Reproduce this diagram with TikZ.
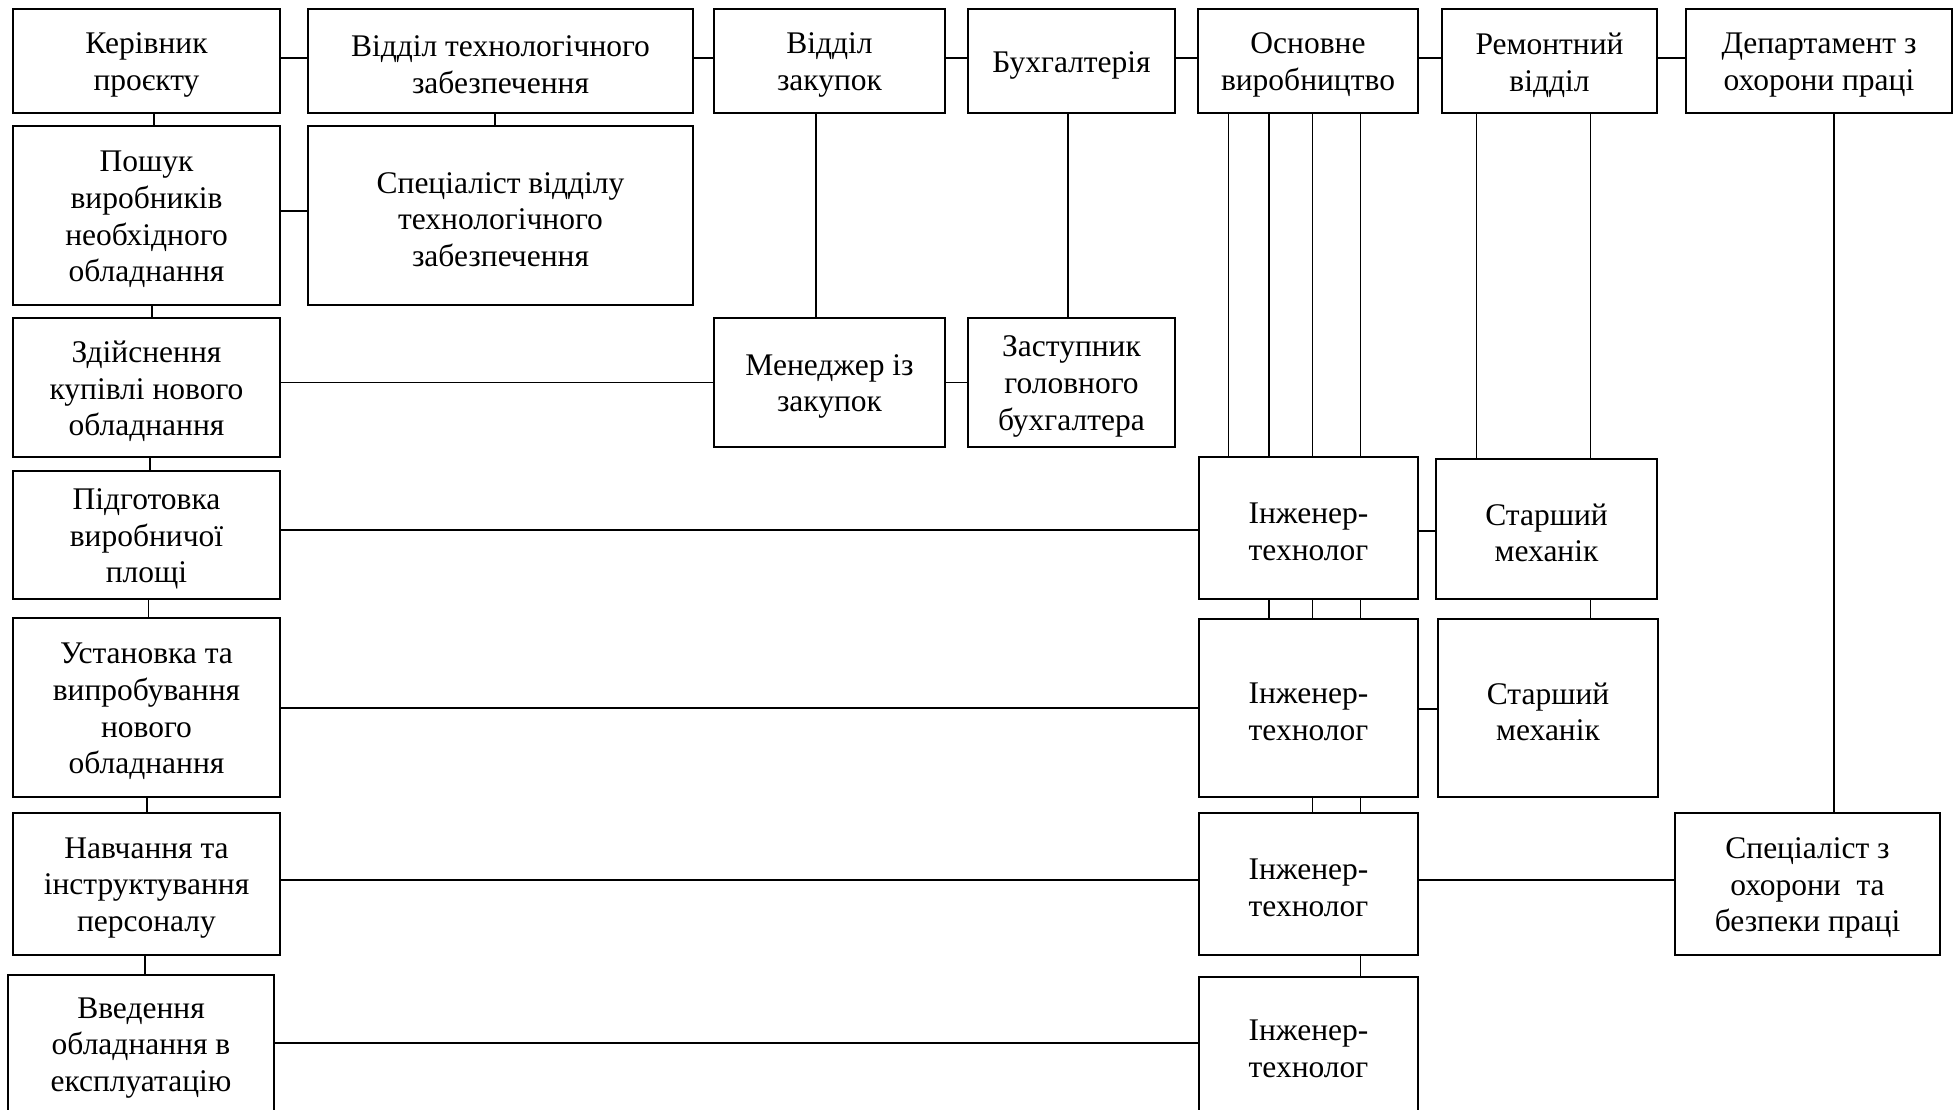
\documentclass[tikz,border=0pt]{standalone}
\usepackage{fontspec}
\setmainfont{Liberation Serif}
\newcommand\bx[6]{%
  \node[box,minimum width={#4-#2},minimum height={#5-#3}] (#1) at ({(#2+#4)/2},{(#3+#5)/2}) {};
  \node[txt] (#1t) at ([yshift=-4pt]#1.center) {#6};}
\begin{document}
\begin{tikzpicture}[x=1pt,y=-1pt,
  box/.style={draw,line width=2.2pt,inner sep=0pt},
  txt/.style={inner sep=0pt,align=center,font=\fontsize{31.5}{36.7}\selectfont},
  conn/.style={line width=1.1pt}]
\useasboundingbox[fill=white] (0,0) rectangle (1955,1110);
% row 1
\bx{A}{13}{9}{280}{113}{Керівник\\проєкту}
\bx{B}{308}{9}{693}{113}{Відділ технологічного\\забезпечення}
\bx{C}{714}{9}{945}{113}{Відділ\\закупок}
\bx{D}{968}{9}{1175}{113}{Бухгалтерія}
\bx{E}{1198}{9}{1418}{113}{Основне\\виробництво}
\bx{F}{1442}{9}{1657}{113}{Ремонтний\\відділ}
\bx{G}{1686}{9}{1952}{113}{Департамент з\\охорони праці}
% row 2
\bx{A2}{13}{126}{280}{305}{Пошук\\виробників\\необхідного\\обладнання}
\bx{B2}{308}{126}{693}{305}{Спеціаліст відділу\\технологічного\\забезпечення}
% row 3
\bx{A3}{13}{318}{280}{457}{Здійснення\\купівлі нового\\обладнання}
\bx{C3}{714}{318}{945}{447}{Менеджер із\\закупок}
\bx{D3}{968}{318}{1175}{447}{Заступник\\головного\\бухгалтера}
% row 4
\bx{A4}{13}{471}{280}{599}{Підготовка\\виробничої\\площі}
\bx{E4}{1199}{457}{1418}{599}{Інженер-\\технолог}
\bx{F4}{1436}{459}{1657}{599}{Старший\\механік}
% row 5
\bx{A5}{13}{618}{280}{797}{Установка та\\випробування\\нового\\обладнання}
\bx{E5}{1199}{619}{1418}{797}{Інженер-\\технолог}
\bx{F5}{1438}{619}{1658}{797}{Старший\\механік}
% row 6
\bx{A6}{13}{813}{280}{955}{Навчання та\\інструктування\\персоналу}
\bx{E6}{1199}{813}{1418}{955}{Інженер-\\технолог}
\bx{G6}{1675}{813}{1940}{955}{Спеціаліст з\\охорони~~та\\безпеки праці}
% row 7
\bx{A7}{8}{975}{274}{1113}{Введення\\обладнання в\\експлуатацію}
\bx{E7}{1199}{977}{1418}{1113}{Інженер-\\технолог}

% top row connectors
\draw[conn] ([yshift=3pt]A.east) -- ([yshift=3pt]B.west);
\draw[conn] ([yshift=3pt]B.east) -- ([yshift=3pt]C.west);
\draw[conn] ([yshift=3pt]C.east) -- ([yshift=3pt]D.west);
\draw[conn] ([yshift=3pt]D.east) -- ([yshift=3pt]E.west);
\draw[conn] ([yshift=3pt]E.east) -- ([yshift=3pt]F.west);
\draw[conn] ([yshift=3pt]F.east) -- ([yshift=3pt]G.west);
% left column chain
\draw[conn] (A.south -| 154,0) -- (A2.north -| 154,0);
\draw[conn] (A2.south -| 152,0) -- (A3.north -| 152,0);
\draw[conn] (A3.south -| 150,0) -- (A4.north -| 150,0);
\draw[conn] (A4.south -| 148.7,0) -- (A5.north -| 148.7,0);
\draw[conn] (A5.south -| 147,0) -- (A6.north -| 147,0);
\draw[conn] (A6.south -| 145,0) -- (A7.north -| 145,0);
% technological dept
\draw[conn] (B.south -| 495,0) -- (B2.north -| 495,0);
\draw[conn] ([yshift=4.5pt]A2.east) -- ([yshift=4.5pt]B2.west);
% purchases and accounting
\draw[conn] (C.south -| 816,0) -- (C3.north -| 816,0);
\draw[conn] (D.south -| 1068,0) -- (D3.north -| 1068,0);
\draw[conn] (A3.east |- C3.west) -- (C3.west);
\draw[conn] (C3.east) -- (D3.west);
% production
\foreach \x in {1228.5,1269,1312.7,1360.5}
  \draw[conn] (E.south -| \x,0) -- (E4.north -| \x,0);
\foreach \x in {1269,1312.7,1360.5}
  \draw[conn] (E4.south -| \x,0) -- (E5.north -| \x,0);
\foreach \x in {1312.7,1360.5}
  \draw[conn] (E5.south -| \x,0) -- (E6.north -| \x,0);
\draw[conn] (E6.south -| 1360.5,0) -- (E7.north -| 1360.5,0);
% repair
\foreach \x in {1476.5,1590.5}
  \draw[conn] (F.south -| \x,0) -- (F4.north -| \x,0);
\draw[conn] (F4.south -| 1590.5,0) -- (F5.north -| 1590.5,0);
% safety
\draw[conn] (G.south -| 1834,0) -- (G6.north -| 1834,0);
% horizontal links
\draw[conn] (A4.east |- 0,530) -- (E4.west |- 0,530);
\draw[conn] (E4.east |- 0,531) -- (F4.west |- 0,531);
\draw[conn] (A5.east |- 0,708) -- (E5.west |- 0,708);
\draw[conn] (E5.east |- 0,709) -- (F5.west |- 0,709);
\draw[conn] (A6.east |- 0,880) -- (E6.west |- 0,880);
\draw[conn] (E6.east |- 0,880) -- (G6.west |- 0,880);
\draw[conn] (A7.east |- 0,1043) -- (E7.west |- 0,1043);
\end{tikzpicture}
\end{document}
